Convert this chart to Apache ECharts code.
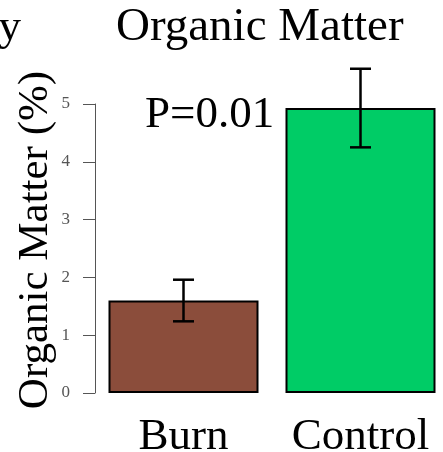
<!DOCTYPE html>
<html><head><meta charset="utf-8">
<script src="https://cdn.jsdelivr.net/npm/echarts@6/dist/echarts.min.js"></script>
<style>html,body{margin:0;padding:0;background:#fff}#c{width:443px;height:452px}</style>
</head><body><div id="c"></div>
<script>
var categories = ['Burn', 'Control'];
var means = [1.6, 4.93];
var errors = [0.36, 0.68];
var barColors = ['#8B4D3B', '#00CC66'];
var yTicks = [0, 1, 2, 3, 4, 5];
var titleText = 'Organic Matter';
var yName = 'Organic Matter (%)';
var pText = 'P=0.01';

var serif = '"Liberation Serif", "Times New Roman", serif';
var chart = echarts.init(document.getElementById('c'), null, {renderer: 'canvas'});
var errData = means.map(function (m, i) { return [i, m - errors[i], m + errors[i]]; });

chart.setOption({
  animation: false,
  backgroundColor: '#fff',
  grid: {left: 95, top: 104, width: 354, bottom: 59, containLabel: false, outerBoundsMode: 'none'},
  xAxis: {
    type: 'category', data: categories,
    axisLine: {show: false}, axisTick: {show: false},
    axisLabel: {fontFamily: serif, fontSize: 45, color: '#000', margin: 22, interval: 0, hideOverlap: false}
  },
  yAxis: {
    type: 'value', min: yTicks[0], max: yTicks[yTicks.length - 1], interval: 1,
    axisLine: {show: true, lineStyle: {color: '#555', width: 1}},
    axisTick: {show: true, length: 12, lineStyle: {color: '#555', width: 1}},
    axisLabel: {fontFamily: serif, fontSize: 17, color: '#555', margin: 25},
    splitLine: {show: false}
  },
  series: [
    {
      type: 'bar', barWidth: 150,
      data: means.map(function (m, i) {
        return {value: m, itemStyle: {color: barColors[i], borderColor: '#000', borderWidth: 2}};
      })
    },
    {
      type: 'custom', clip: false, z: 10,
      data: errData,
      renderItem: function (params, api) {
        var x = api.value(0);
        var lo = api.coord([x, api.value(1)]);
        var hi = api.coord([x, api.value(2)]);
        var hw = 10.5;
        var st = {stroke: '#000', lineWidth: 2.5};
        return {type: 'group', children: [
          {type: 'line', shape: {x1: lo[0], y1: lo[1], x2: hi[0], y2: hi[1]}, style: st},
          {type: 'line', shape: {x1: lo[0] - hw, y1: lo[1], x2: lo[0] + hw, y2: lo[1]}, style: st},
          {type: 'line', shape: {x1: hi[0] - hw, y1: hi[1], x2: hi[0] + hw, y2: hi[1]}, style: st}
        ]};
      }
    }
  ],
  graphic: [
    {type: 'text', left: 116, top: 4, style: {text: titleText, font: '47px ' + serif, fill: '#000'}},
    {type: 'text', style: {text: 'y', x: 21, y: 6, align: 'right', verticalAlign: 'top', font: '45px ' + serif, fill: '#000'}},
    {type: 'text', style: {text: pText, x: 145, y: 93, align: 'left', verticalAlign: 'top', font: '45px ' + serif, fill: '#000'}},
    {type: 'text', x: 36, y: 240, rotation: Math.PI / 2, style: {text: yName, x: 0, y: 0, align: 'center', verticalAlign: 'middle', font: '43px ' + serif, fill: '#000'}}
  ]
});
</script></body></html>
